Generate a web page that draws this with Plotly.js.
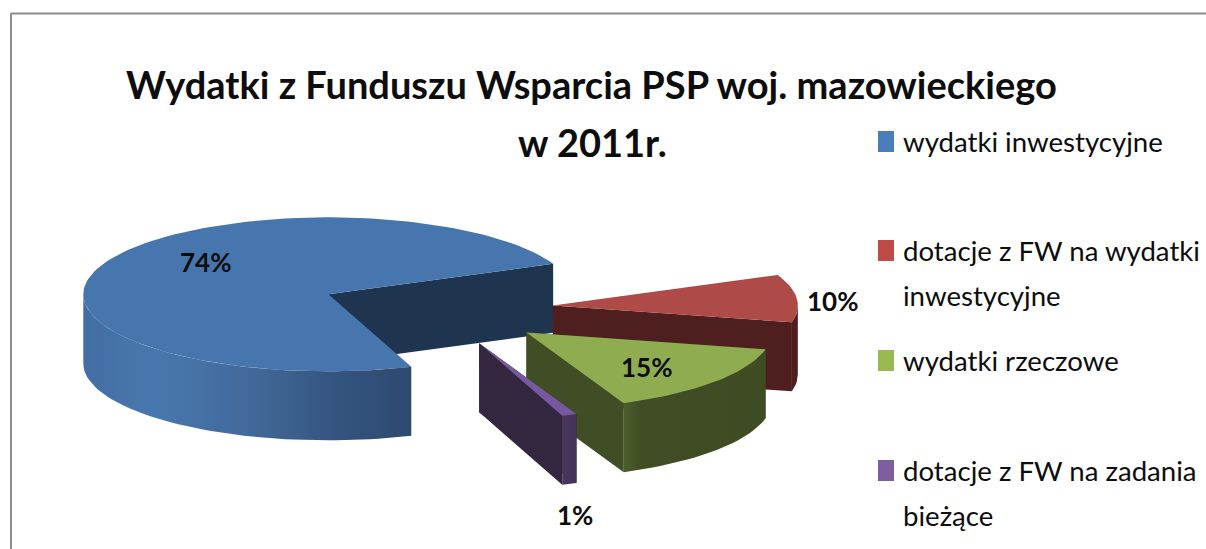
<!DOCTYPE html>
<html>
<head>
<meta charset="utf-8">
<script src="https://cdn.plot.ly/plotly-3.0.1.min.js"></script>
<style>html,body{margin:0;padding:0;background:#fff;overflow:hidden}#chart{width:1206px;height:549px}</style>
</head>
<body>
<div id="chart"></div>
<script>
// ---- data ----
const titleLines = ['Wydatki z Funduszu Wsparcia PSP woj. mazowieckiego', 'w 2011r.'];
const categories = ['wydatki inwestycyjne', 'dotacje z FW na wydatki<br>inwestycyjne', 'wydatki rzeczowe', 'dotacje z FW na zadania<br>bieżące'];
const values = [74, 10, 15, 1];

// ---- styling ----
const topColors = ['#4776AE', '#AE4A47', '#8FAD50', '#7659A0'];
const keyColors = ['#4A7EBB', '#BE4B48', '#98B954', '#7D5FA0'];
const radialColors = ['#1F344F', '#4F1F1F', '#414D24', '#33263F'];
const sideScales = [
  [[0, '#436EA3'], [0.22, '#4877AF'], [0.5, '#426A9A'], [0.8, '#33527C'], [1, '#2D4A70']],
  [[0, '#4F1F1F'], [1, '#4F1F1F']],
  [[0, '#4C5E2C'], [0.12, '#414D24'], [1, '#3F4B23']],
  [[0, '#4A3660'], [1, '#453259']]
];
const labelPos = [[205, 262], [832, 301], [646, 367], [575, 515]];
const legendRowY = [141, 250, 360, 470];
const FONT = 'Lato, Carlito, sans-serif';

// ---- pie geometry (projection of a tilted, exploded 3D pie) ----
const cx = 436, cy = 309, rx = 245, ry = 77, depth = 69, explode = 0.479, startDeg = 70.2;
const rad = d => d * Math.PI / 180;
const total = values.reduce((a, b) => a + b, 0);

function arc(c, from, to, dy) {
  const n = Math.max(2, Math.ceil(Math.abs(to - from) / 2));
  const xs = [], ys = [];
  for (let i = 0; i <= n; i++) {
    const t = rad(from + (to - from) * i / n);
    xs.push(c[0] + rx * Math.cos(t));
    ys.push(c[1] + ry * Math.sin(t) + dy);
  }
  return [xs, ys];
}
function poly(xs, ys, style) {
  return Object.assign({x: xs, y: ys, mode: 'lines', line: {width: 0}, fill: 'toself',
    hoverinfo: 'skip', showlegend: false}, style);
}
function sidePoly(c, from, to, scale) {
  const a = arc(c, from, to, 0), b = arc(c, to, from, depth);
  return poly(a[0].concat(b[0]), a[1].concat(b[1]), {
    fillgradient: {type: 'horizontal', colorscale: scale}
  });
}

// slices sweep clockwise on screen from startDeg
const slices = [];
let acc = startDeg;
values.forEach((v, i) => {
  const sweep = v / total * 360;
  const from = acc, to = acc + sweep;
  const mid = rad((from + to) / 2);
  slices.push({i, from, to, c: [cx + explode * rx * Math.cos(mid), cy + explode * ry * Math.sin(mid)]});
  acc = to;
});

function pt(c, deg, dy) {
  return [c[0] + rx * Math.cos(rad(deg)), c[1] + ry * Math.sin(rad(deg)) + dy];
}
function radialFace(c, deg, color) {
  const p = pt(c, deg, 0), q = pt(c, deg, depth);
  return poly([c[0], p[0], q[0], c[0]], [c[1], p[1], q[1], c[1] + depth], {fillcolor: color});
}

const traces = [];
slices.forEach(s => {
  const i = s.i;
  const frontFaceDeg = (i === 0) ? s.to : ((i === 1) ? s.to : s.from);
  // the radial wall that faces the viewer
  traces.push(radialFace(s.c, frontFaceDeg, radialColors[i]));
  if (i === 2 || i === 3) traces.push(radialFace(s.c, s.to, radialColors[i]));
  // outer curved wall: only the part on the front half (0..180 deg) shows
  const norm = d => ((d % 360) + 360) % 360;
  let a = norm(s.from), b = a + (s.to - s.from);
  const ranges = [];
  if (a < 180) ranges.push([a, Math.min(b, 180)]);
  if (b > 360) ranges.push([360, Math.min(b, 540)]);
  ranges.forEach(r => traces.push(sidePoly(s.c, r[0], r[1], sideScales[i])));
  // top face
  const top = arc(s.c, s.from, s.to, 0);
  traces.push(poly([s.c[0]].concat(top[0], [s.c[0]]), [s.c[1]].concat(top[1], [s.c[1]]),
    {fillcolor: topColors[i]}));
});

// ---- text ----
const annotations = [];
function text(x, y, t, size, weight, anchor) {
  annotations.push({x, y, xref: 'x', yref: 'y', text: t, showarrow: false,
    xanchor: anchor, yanchor: 'middle', align: 'left',
    font: {family: FONT, size, color: '#0d0d0d', weight}});
}
text(591, 84, titleLines[0], 38, 700, 'center');
text(592, 142, titleLines[1], 38, 700, 'center');
values.forEach((v, i) => text(labelPos[i][0], labelPos[i][1], v + '%', 26, 700, 'center'));
categories.forEach((c, i) => {
  c.split('<br>').forEach((line, j) => text(901, legendRowY[i] + j * 45, line, 27.6, 400, 'left'));
});

const shapes = [
  {type: 'line', x0: 11, x1: 1206, y0: 13.5, y1: 13.5, line: {color: '#8C8C8C', width: 2}},
  {type: 'line', x0: 11, x1: 11, y0: 13, y1: 549, line: {color: '#8C8C8C', width: 2}}
];
keyColors.forEach((col, i) => shapes.push({type: 'rect', x0: 878, x1: 894,
  y0: legendRowY[i] - 10, y1: legendRowY[i] + 11, fillcolor: col, line: {width: 0}}));

const hidden = {visible: false, fixedrange: true};
Plotly.newPlot('chart', traces, {
  width: 1206, height: 549,
  margin: {l: 0, r: 0, t: 0, b: 0},
  paper_bgcolor: '#fff', plot_bgcolor: '#fff',
  showlegend: false,
  xaxis: Object.assign({range: [0, 1206]}, hidden),
  yaxis: Object.assign({range: [549, 0]}, hidden),
  annotations, shapes
}, {displayModeBar: false, staticPlot: true});
</script>
</body>
</html>
